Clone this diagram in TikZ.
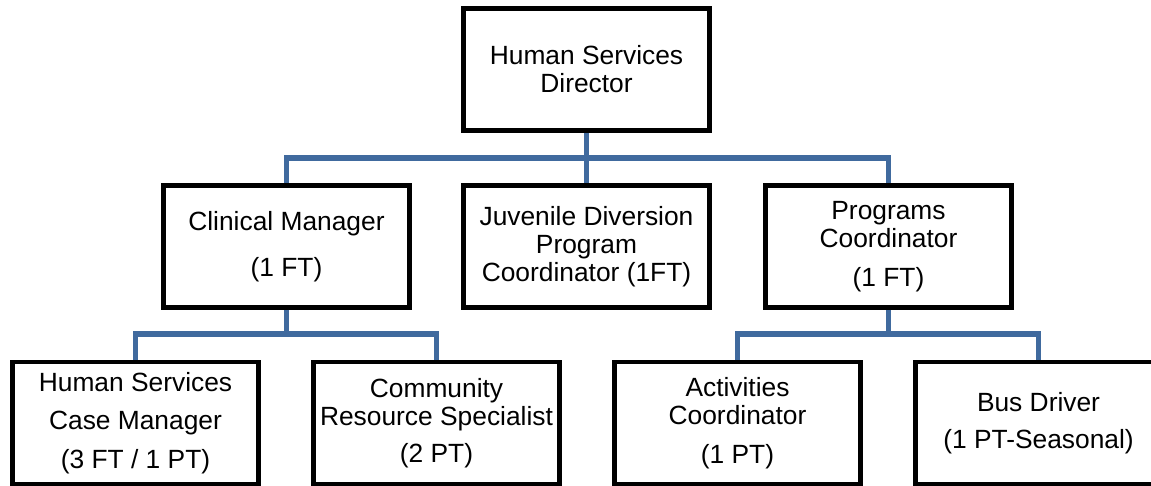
\documentclass[tikz,border=0pt]{standalone}
\usepackage{fontspec}
\setmainfont{Liberation Sans}
\usetikzlibrary{calc}

\definecolor{azulligacao}{RGB}{64,106,158}

\begin{document}
\begin{tikzpicture}[x=0.02cm, y=0.02cm,
	cargo/.style={draw, line width=2.8pt, minimum width=4.92cm, minimum height=2.44cm,
		inner sep=0pt, align=center, font=\fontsize{15pt}{16pt}\selectfont},
	ligacao/.style={draw=azulligacao, line width=3.2pt}]

	% Área da figura
	\useasboundingbox (0,0) rectangle (1151,485);

	% Direção
	\node[cargo] (dir) at (586.5,415.5) {Human Services\\Director};

	% Segundo nível
	\node[cargo] (clin) at (286.5,238.5) {Clinical Manager\\[10pt](1 FT)};
	\node[cargo] (juv) at (586.5,238.5) {Juvenile Diversion\\Program\\Coordinator (1FT)};
	\node[cargo] (prog) at (888.5,238.5) {Programs\\Coordinator\\[6pt](1 FT)};

	% Terceiro nível
	\node[cargo] (hscm) at (135.5,62) {Human Services\\[6pt]Case Manager\\[6pt](3 FT / 1 PT)};
	\node[cargo] (crs) at (436.5,62) {Community\\Resource Specialist\\[5pt](2 PT)};
	\node[cargo] (act) at (737.5,62) {Activities\\Coordinator\\[6pt](1 PT)};
	\node[cargo] (bus) at (1038.5,62) {Bus Driver\\[5pt](1 PT-Seasonal)};

	% Ligações da direção
	\draw[ligacao] (dir.south) -- ++(0,-25) coordinate (j1);
	\draw[ligacao] (clin.north) |- (j1) -| (prog.north);
	\draw[ligacao] (j1) -- (juv.north);

	% Ligações do Clinical Manager
	\draw[ligacao] (clin.south) -- ++(0,-24) coordinate (j2);
	\draw[ligacao] (hscm.north) |- (j2) -| (crs.north);

	% Ligações do Programs Coordinator
	\draw[ligacao] (prog.south) -- ++(0,-24) coordinate (j3);
	\draw[ligacao] (act.north) |- (j3) -| (bus.north);

\end{tikzpicture}
\end{document}
